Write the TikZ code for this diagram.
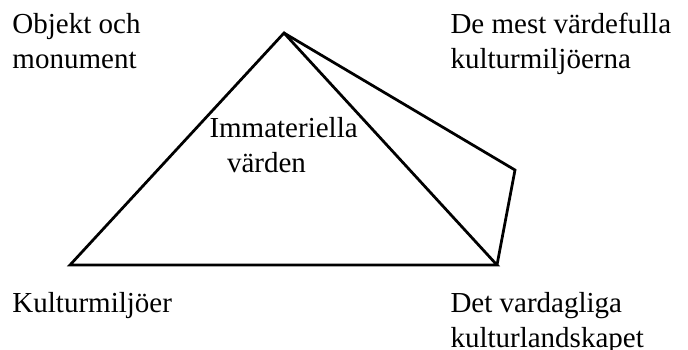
\documentclass[tikz,border=0pt]{standalone}
\usepackage{fontspec}
\setmainfont{Liberation Serif}
\usetikzlibrary{positioning}
\tikzset{x=0.4pt, y=-0.4pt,
every node/.style={ % Sets the properties for each text label
inner sep=0pt,
font=\fontsize{11.6}{13.8}\selectfont,
align=left,
anchor=north west},
side/.style={ % Sets the properties for the pyramid sides
draw,
line width=1.1pt,
line join=miter}}

\begin{document}
\begin{tikzpicture}
\useasboundingbox (0,0) rectangle (688,349);
\coordinate (top) at (284,33);
\coordinate (left) at (70,265);
\coordinate (right) at (497,265);
\coordinate (far) at (515,170);
\node (obj) at (12,13) {Objekt och\\monument};
\node (mest) at (450,13) {De mest v\"ardefulla\\kulturmilj\"oerna};
\node (imm) at (209,117) {Immateriella\\\hspace{7pt}v\"arden};
\node (milj) at (12,292) {Kulturmilj\"oer};
\node (vard) at (450,292) {Det vardagliga\\kulturlandskapet};
\draw[side] (top) -- (left) -- (right) -- cycle;
\draw[side] (top) -- (far) -- (right);
\end{tikzpicture}
\end{document}
